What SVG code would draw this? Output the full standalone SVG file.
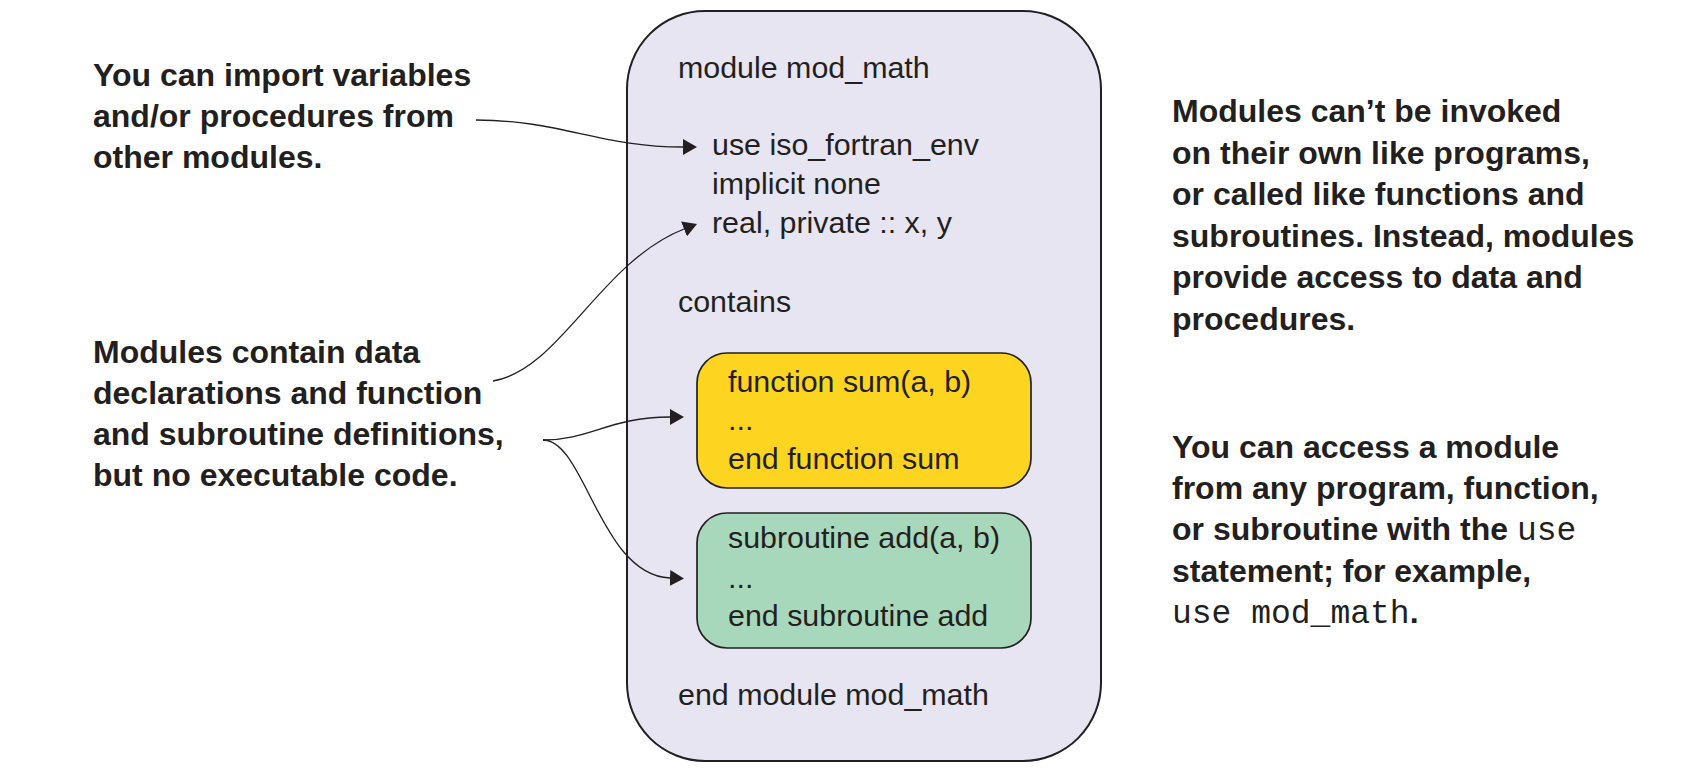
<svg xmlns="http://www.w3.org/2000/svg" width="1693" height="779" viewBox="0 0 1693 779">
<style>
.code{font-family:"Liberation Sans",Arial,sans-serif;font-size:30.4px;fill:#231f20}
.note{font-family:"Liberation Sans",Arial,sans-serif;font-weight:bold;font-size:32px;fill:#231f20}
.mono{font-family:"Liberation Mono","Courier New",monospace;font-weight:normal;font-size:33px}
.box{stroke:#231f20}
.conn{fill:none;stroke:#231f20;stroke-width:1.3}
</style>
<defs>
<marker id="ah" viewBox="0 0 14 16" refX="0" refY="8" markerWidth="14" markerHeight="16" markerUnits="userSpaceOnUse" orient="auto">
<path d="M0,0 L14,8 L0,16 Z" fill="#231f20"/>
</marker>
</defs>
<rect width="1693" height="779" fill="#ffffff"/>
<g id="module">
<rect class="box" x="627" y="11" width="474" height="750" rx="78" ry="78" fill="#e7e5f2" stroke-width="2"/>
<text class="code" x="678" y="78">module mod_math</text>
<text class="code" x="712" y="155">use iso_fortran_env</text>
<text class="code" x="712" y="194">implicit none</text>
<text class="code" x="712" y="233">real, private :: x, y</text>
<text class="code" x="678" y="312">contains</text>
<text class="code" x="678" y="705">end module mod_math</text>
</g>
<g id="function-sum">
<rect class="box" x="697" y="353" width="334" height="135" rx="30" ry="30" fill="#fdd420" stroke-width="1.7"/>
<text class="code" x="728" y="392">function sum(a, b)</text>
<text class="code" x="728" y="430">...</text>
<text class="code" x="728" y="469">end function sum</text>
</g>
<g id="subroutine-add">
<rect class="box" x="697" y="513" width="334" height="135" rx="30" ry="30" fill="#a8d8bc" stroke-width="1.7"/>
<text class="code" x="728" y="548">subroutine add(a, b)</text>
<text class="code" x="728" y="588">...</text>
<text class="code" x="728" y="626">end subroutine add</text>
</g>
<g id="note-import">
<text class="note" x="93" y="86">You can import variables</text>
<text class="note" x="93" y="127">and/or procedures from</text>
<text class="note" x="93" y="168">other modules.</text>
</g>
<g id="note-contain">
<text class="note" x="93" y="363">Modules contain data</text>
<text class="note" x="93" y="404">declarations and function</text>
<text class="note" x="93" y="445">and subroutine definitions,</text>
<text class="note" x="93" y="486">but no executable code.</text>
</g>
<g id="note-invoke">
<text class="note" x="1172" y="122">Modules can’t be invoked</text>
<text class="note" x="1172" y="163.5">on their own like programs,</text>
<text class="note" x="1172" y="205">or called like functions and</text>
<text class="note" x="1172" y="246.5">subroutines. Instead, modules</text>
<text class="note" x="1172" y="288">provide access to data and</text>
<text class="note" x="1172" y="329.5">procedures.</text>
</g>
<g id="note-access">
<text class="note" x="1172" y="458">You can access a module</text>
<text class="note" x="1172" y="499">from any program, function,</text>
<text class="note" x="1172" y="540">or subroutine with the <tspan class="mono">use</tspan></text>
<text class="note" x="1172" y="582">statement; for example,</text>
<text class="note" x="1172" y="623"><tspan class="mono">use mod_math</tspan>.</text>
</g>
<g id="connectors">
<path class="conn" d="M476,120 C560,120 600,147 683,147" marker-end="url(#ah)"/>
<path class="conn" d="M493,381 C560,370 600,262 684,229" marker-end="url(#ah)"/>
<path class="conn" d="M543,440 C590,440 610,417 670,417" marker-end="url(#ah)"/>
<path class="conn" d="M543,440 C585,440 600,575 670,578" marker-end="url(#ah)"/>
</g>
</svg>
